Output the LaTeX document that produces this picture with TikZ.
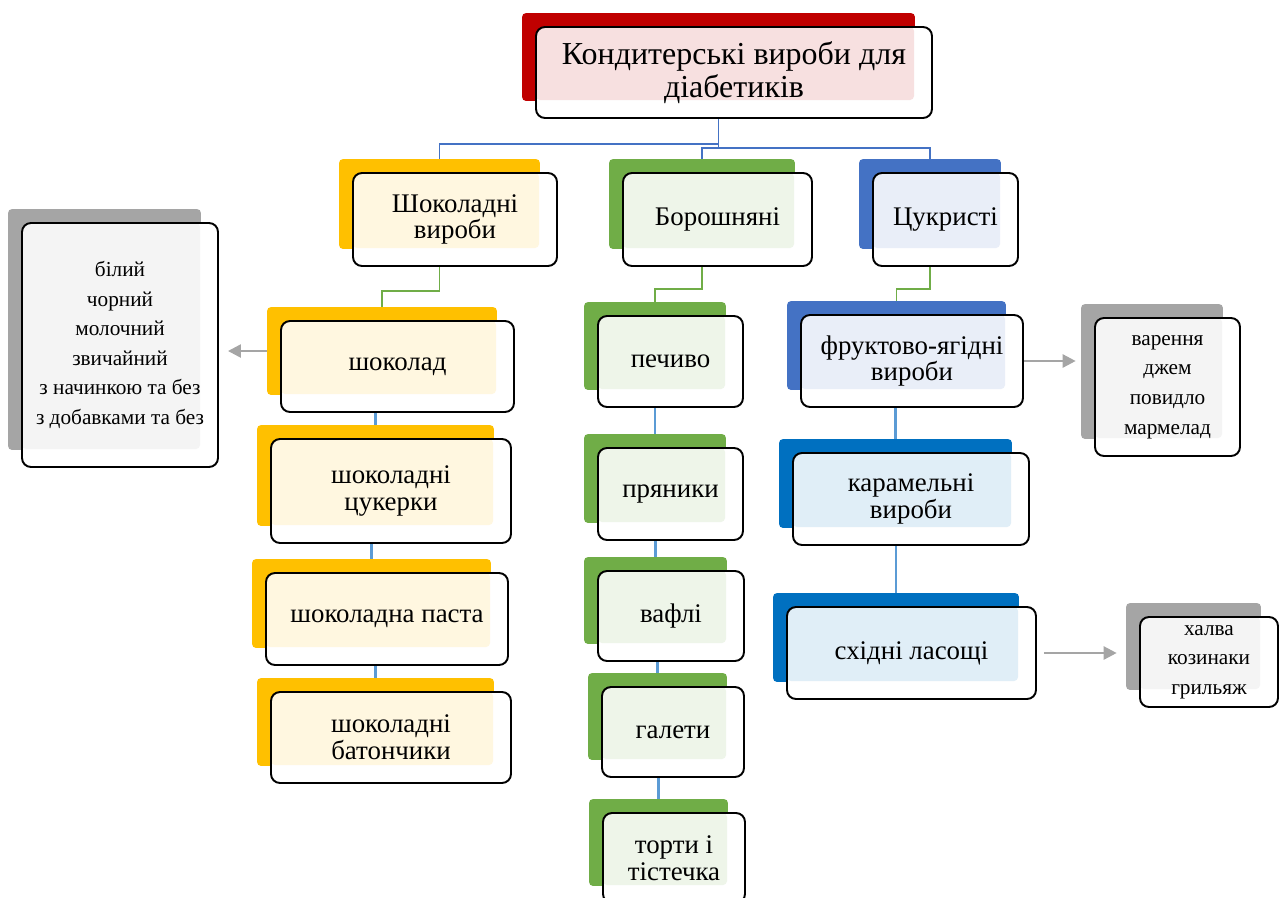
\documentclass[tikz,border=0pt]{standalone}
\usepackage{fontspec}
\setmainfont{Liberation Serif}
\usetikzlibrary{arrows.meta,fit}
\pgfdeclarelayer{background}
\pgfsetlayers{background,main}
\definecolor{hdred}{HTML}{C00000}
\definecolor{chocyel}{HTML}{FFC000}
\definecolor{flourgrn}{HTML}{70AD47}
\definecolor{sugblue}{HTML}{4472C4}
\definecolor{deepblue}{HTML}{0070C0}
\definecolor{notegray}{HTML}{A5A5A5}
\definecolor{linkblue}{HTML}{5B9BD5}
\tikzset{
  item/.style={draw=black, line width=1.1pt, rounded corners=0.18cm, fill=white,
    align=center, inner sep=2pt, font=\fontsize{15.3}{15.2}\selectfont,
    path picture={\fill[#1!12!white, rounded corners=0.08cm]
      (path picture bounding box.north west) rectangle
      ([xshift=-0.36cm,yshift=0.36cm]path picture bounding box.south east);}},
  head/.style={item=#1, font=\fontsize{18.2}{18.8}\selectfont},
  note/.style={item=#1, font=\fontsize{12.1}{16.8}\selectfont},
  dims/.style 2 args={minimum width=#1*0.02cm, minimum height=#2*0.02cm},
  back/.style={inner sep=0pt, rounded corners=0.08cm},
  topline/.style={draw=sugblue, line width=1.1pt},
  subline/.style={draw=flourgrn, line width=1.1pt},
  colline/.style={draw=linkblue, line width=1.3pt},
  pointer/.style={draw=notegray, line width=1.4pt, -{Triangle[length=0.26cm,width=0.26cm]}}
}
\begin{document}
\begin{tikzpicture}[x=0.02cm, y=-0.02cm]
\useasboundingbox (0,0) rectangle (1279,897);
% headings
\node[head=hdred, dims={396}{91}] (title) at (734,72.5) {Кондитерські вироби для\\діабетиків};
\node[item=chocyel, dims={204}{93}] (choc) at (455,219.5) {Шоколадні\\вироби};
\node[item=flourgrn, dims={189}{93}] (flour) at (717.5,219.5) {Борошняні};
\node[item=sugblue, dims={145}{93}] (sugar) at (945.5,219.5) {Цукристі};
% chocolate column
\node[item=chocyel, dims={233}{91}] (shok) at (397.5,366.5) {шоколад};
\node[item=chocyel, dims={240}{104}] (cand) at (391,491) {шоколадні\\цукерки};
\node[item=chocyel, dims={242}{92}] (paste) at (387,619) {шоколадна паста};
\node[item=chocyel, dims={240}{91}] (bars) at (391,737.5) {шоколадні\\батончики};
% flour column
\node[item=flourgrn, dims={145}{91}] (cook) at (670.5,361.5) {печиво};
\node[item=flourgrn, dims={145}{92}] (ginger) at (670.5,494) {пряники};
\node[item=flourgrn, dims={146}{90}] (waf) at (671,616) {вафлі};
\node[item=flourgrn, dims={142}{90}] (gal) at (673,732) {галети};
\node[item=flourgrn, dims={142}{90}] (cake) at (674,858) {торти і\\тістечка};
% sugar column
\node[item=sugblue, dims={222}{92}] (fruit) at (912,361) {фруктово-ягідні\\вироби};
\node[item=deepblue, dims={236}{92}] (caram) at (911,499) {карамельні\\вироби};
\node[item=deepblue, dims={249}{92}] (east) at (911.5,653) {східні ласощі};
% side notes
\node[note=notegray, dims={196}{244}] (types) at (120,345) {білий\\чорний\\молочний\\звичайний\\з начинкою та без\\з добавками та без};
\node[note=notegray, dims={145}{138}] (jam) at (1167.5,387) {варення\\джем\\повидло\\мармелад};
\node[note=notegray, dims={138}{90}] (halva) at (1209,662) {халва\\козинаки\\грильяж};
\begin{pgfonlayer}{background}
\foreach \n/\c in {title/hdred, choc/chocyel, flour/flourgrn, sugar/sugblue,
    shok/chocyel, cand/chocyel, paste/chocyel, bars/chocyel,
    cook/flourgrn, ginger/flourgrn, waf/flourgrn, gal/flourgrn, cake/flourgrn,
    fruit/sugblue, caram/deepblue, east/deepblue,
    types/notegray, jam/notegray, halva/notegray}
  \node[back, fill=\c, fit={([xshift=-0.26cm,yshift=0.26cm]\n.north west) ([xshift=-0.36cm,yshift=0.36cm]\n.south east)}] (\n-b) {};
\draw[topline] (title-b.south) -- ++(0,43) -| (choc-b.north);
\draw[topline] (title-b.south) -- ++(0,47) -| (flour-b.north);
\draw[topline] (title-b.south) -- ++(0,47) -| (sugar-b.north);
\draw[subline] (choc-b.south) -- ++(0,42) -| (shok-b.north);
\draw[subline] (flour-b.south) -- ++(0,40) -| (cook-b.north);
\draw[subline] (sugar-b.south) -- ++(0,40) -| (fruit-b.north);
\foreach \a/\b in {shok/cand, cand/paste, paste/bars, cook/ginger, ginger/waf,
    waf/gal, gal/cake, fruit/caram, caram/east}
  \draw[colline] (\b-b.north) -- (\b-b.north |- \a-b.south);
\end{pgfonlayer}
\draw[pointer, shorten >=0.18cm] (shok-b.west) -- (shok-b.west -| types.east);
\draw[pointer, shorten >=0.1cm] (fruit.east) -- (fruit.east -| jam-b.west);
\draw[pointer, shorten <=0.14cm, shorten >=0.18cm] (east.east) -- (east.east -| halva-b.west);
\end{tikzpicture}
\end{document}
